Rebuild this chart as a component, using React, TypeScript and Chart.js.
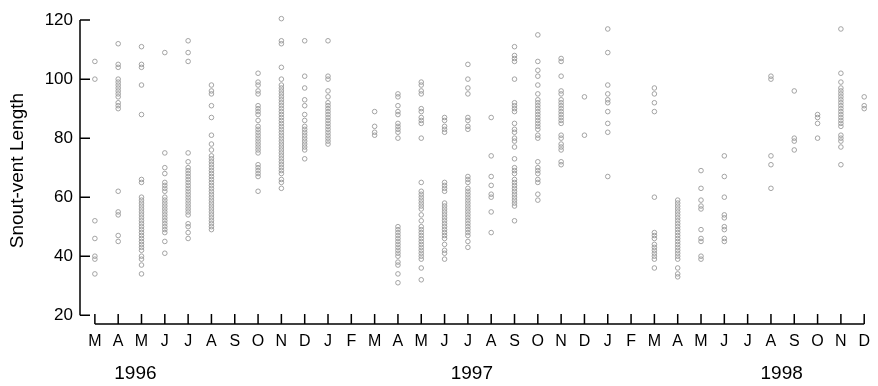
import { useEffect, useRef } from "react";
import { Chart, registerables } from "chart.js";

Chart.register(...registerables);

// Month tick labels, March 1996 .. December 1998
const monthLetters = [
  "M", "A", "M", "J", "J", "A", "S", "O", "N", "D",
  "J", "F", "M", "A", "M", "J", "J", "A", "S", "O", "N", "D",
  "J", "F", "M", "A", "M", "J", "J", "A", "S", "O", "N", "D",
];
const yearLabels = ["1996", "1997", "1998"];
const yearCenters = [1.74, 16.17, 29.46]; // in month-index units
const yTicks = [20, 40, 60, 80, 100, 120];
const yTitle = "Snout-vent Length";

// Snout-vent lengths per month (1996: Mar..Dec)
const svl1996: number[][] = [
  [106, 100, 52, 46, 40, 39, 34],
  [112, 105, 104, 100, 99, 98, 97, 96, 95, 94, 92, 91, 90, 62, 55, 54, 47, 45],
  [111, 105, 104, 98, 88, 66, 65, 60, 59, 58, 57, 56, 55, 54, 53, 52, 51, 50, 49, 48, 47, 46, 45, 44, 43, 42, 40, 39, 37, 34],
  [109, 75, 70, 68, 65, 64, 63, 62, 60, 59, 58, 57, 56, 55, 54, 53, 52, 51, 50, 49, 48, 45, 41],
  [113, 109, 106, 75, 72, 70, 69, 68, 67, 66, 65, 64, 63, 62, 61, 60, 59, 58, 57, 56, 55, 54, 51, 50, 48, 46],
  [98, 96, 95, 91, 87, 81, 78, 76, 74, 73, 72, 71, 70, 69, 68, 67, 66, 65, 64, 63, 62, 61, 60, 59, 58, 57, 56, 55, 54, 53, 52, 51, 50, 49],
  [],
  [102, 99, 98, 96, 95, 91, 90, 89, 88, 86, 84, 83, 82, 81, 80, 79, 78, 77, 76, 75, 71, 70, 69, 68, 67, 62],
  [120.5, 113, 112, 104, 100, 98, 97, 96, 95, 94, 93, 92, 91, 90, 89, 88, 87, 86, 85, 84, 83, 82, 81, 80, 79, 78, 77, 76, 75, 74, 73, 72, 71, 70, 69, 68, 66, 65, 63],
  [113, 101, 97, 93, 91, 88, 86, 84, 83, 82, 81, 80, 79, 78, 77, 76, 73],
];

// 1997: Jan..Dec
const svl1997: number[][] = [
  [113, 101, 100, 96, 94, 92, 91, 90, 89, 88, 87, 86, 85, 84, 83, 82, 81, 80, 79, 78],
  [],
  [89, 84, 82, 81],
  [95, 94, 91, 89, 88, 85, 84, 83, 82, 80, 50, 49, 48, 47, 46, 45, 44, 43, 42, 41, 40, 38, 37, 34, 31],
  [99, 98, 96, 95, 90, 89, 87, 86, 85, 80, 65, 62, 61, 60, 59, 58, 57, 56, 54, 52, 50, 49, 48, 47, 46, 45, 44, 43, 42, 41, 40, 39, 36, 32],
  [87, 86, 84, 83, 82, 65, 64, 63, 62, 58, 57, 56, 55, 54, 53, 52, 51, 50, 49, 48, 47, 46, 44, 42, 41, 39],
  [105, 100, 97, 95, 87, 86, 84, 83, 67, 66, 65, 63, 62, 61, 60, 59, 58, 57, 56, 55, 54, 53, 52, 51, 50, 49, 48, 47, 45, 43],
  [87, 74, 67, 64, 61, 60, 55, 48],
  [111, 108, 107, 106, 100, 92, 91, 90, 89, 85, 83, 82, 80, 79, 77, 73, 70, 69, 68, 66, 65, 64, 63, 62, 61, 60, 59, 58, 57, 52],
  [115, 106, 103, 101, 98, 95, 93, 92, 91, 90, 89, 88, 87, 86, 85, 84, 83, 81, 80, 72, 70, 69, 68, 66, 65, 61, 59],
  [107, 106, 101, 96, 95, 93, 92, 91, 90, 89, 88, 87, 86, 85, 81, 80, 78, 77, 76, 72, 71],
  [94, 81],
];

// 1998: Jan..Dec
const svl1998: number[][] = [
  [117, 109, 98, 95, 93, 92, 89, 85, 82, 67],
  [],
  [97, 95, 92, 89, 60, 48, 47, 46, 44, 43, 42, 41, 40, 39, 36],
  [59, 58, 57, 56, 55, 54, 53, 52, 51, 50, 49, 48, 47, 46, 45, 44, 43, 42, 41, 40, 39, 36, 34, 33],
  [69, 63, 59, 57, 56, 49, 46, 45, 40, 39],
  [74, 67, 60, 54, 53, 50, 49, 46, 45],
  [],
  [101, 100, 74, 71, 63],
  [96, 80, 79, 76],
  [88, 87, 85, 80],
  [117, 102, 99, 97, 96, 95, 94, 93, 92, 91, 90, 89, 88, 87, 86, 85, 84, 81, 80, 79, 77, 71],
  [94, 91, 90],
];

const FONT = '"Liberation Sans", Arial, Helvetica, sans-serif';

const axisDecor = {
  id: "axisDecor",
  afterDraw(chart: any) {
    const { ctx, chartArea, scales } = chart;
    const xs = scales.x;
    const ys = scales.y;
    const left = chartArea.left;
    const bottom = chartArea.bottom;
    ctx.save();
    ctx.strokeStyle = "#000";
    ctx.lineWidth = 1.5;
    ctx.beginPath();
    ctx.moveTo(left, ys.getPixelForValue(yTicks[0]));
    ctx.lineTo(left, ys.getPixelForValue(yTicks[yTicks.length - 1]));
    yTicks.forEach((v) => {
      const p = ys.getPixelForValue(v);
      ctx.moveTo(left, p);
      ctx.lineTo(left + 10, p);
    });
    const x0 = xs.getPixelForValue(0);
    const x1 = xs.getPixelForValue(monthLetters.length - 1);
    ctx.moveTo(x0, bottom);
    ctx.lineTo(x1, bottom);
    monthLetters.forEach((_, i) => {
      const p = xs.getPixelForValue(i);
      ctx.moveTo(p, bottom);
      ctx.lineTo(p, bottom - 10);
    });
    ctx.stroke();
    ctx.fillStyle = "#000";
    ctx.font = `19px ${FONT}`;
    ctx.textAlign = "center";
    ctx.textBaseline = "middle";
    yearLabels.forEach((t, i) => {
      ctx.fillText(t, xs.getPixelForValue(yearCenters[i]), bottom + 50);
    });
    ctx.restore();
  },
};

export default function App() {
  const ref = useRef<HTMLCanvasElement | null>(null);
  useEffect(() => {
    if (!ref.current) return;
    const all = [...svl1996, ...svl1997, ...svl1998];
    const points: { x: number; y: number }[] = [];
    all.forEach((vals, i) => vals.forEach((v) => points.push({ x: i, y: v })));
    const chart = new Chart(ref.current, {
      type: "scatter",
      data: {
        datasets: [
          {
            data: points,
            pointStyle: "circle",
            pointRadius: 2.3,
            borderColor: "#9a9a9a",
            backgroundColor: "rgba(0,0,0,0)",
            borderWidth: 0.9,
            clip: false as any,
          },
        ],
      },
      options: {
        animation: false,
        responsive: false,
        devicePixelRatio: 1,
        layout: { padding: { top: 10, right: 5, left: 0, bottom: 0 } },
        plugins: { legend: { display: false }, tooltip: { enabled: false } },
        scales: {
          x: {
            type: "linear",
            min: -0.638,
            max: 33.085,
            grid: { display: false, drawTicks: false },
            border: { display: false },
            afterFit: (s: any) => {
              s.height = 62;
            },
            afterBuildTicks: (s: any) => {
              s.ticks = monthLetters.map((_, i) => ({ value: i }));
            },
            ticks: {
              autoSkip: false,
              maxRotation: 0,
              minRotation: 0,
              padding: 8,
              color: "#000",
              font: { family: FONT, size: 16 },
              callback: (v: any) => monthLetters[Number(v)] ?? "",
            },
          },
          y: {
            type: "linear",
            min: 17.02,
            max: 120.99,
            grid: { display: false, drawTicks: false },
            border: { display: false },
            afterFit: (s: any) => {
              s.width = 80;
            },
            afterBuildTicks: (s: any) => {
              s.ticks = yTicks.map((v) => ({ value: v }));
            },
            ticks: {
              padding: 7,
              color: "#000",
              font: { family: FONT, size: 17 },
            },
            title: {
              display: true,
              text: yTitle,
              color: "#000",
              font: { family: FONT, size: 19 },
              padding: { top: 6, bottom: 0 },
            },
          },
        },
      },
      plugins: [axisDecor],
    });
    return () => chart.destroy();
  }, []);
  return (
    <div style={{ position: "fixed", left: 0, top: 0, width: 878, height: 386, background: "#fff" }}>
      <canvas ref={ref} width={878} height={386} style={{ display: "block" }} />
    </div>
  );
}
